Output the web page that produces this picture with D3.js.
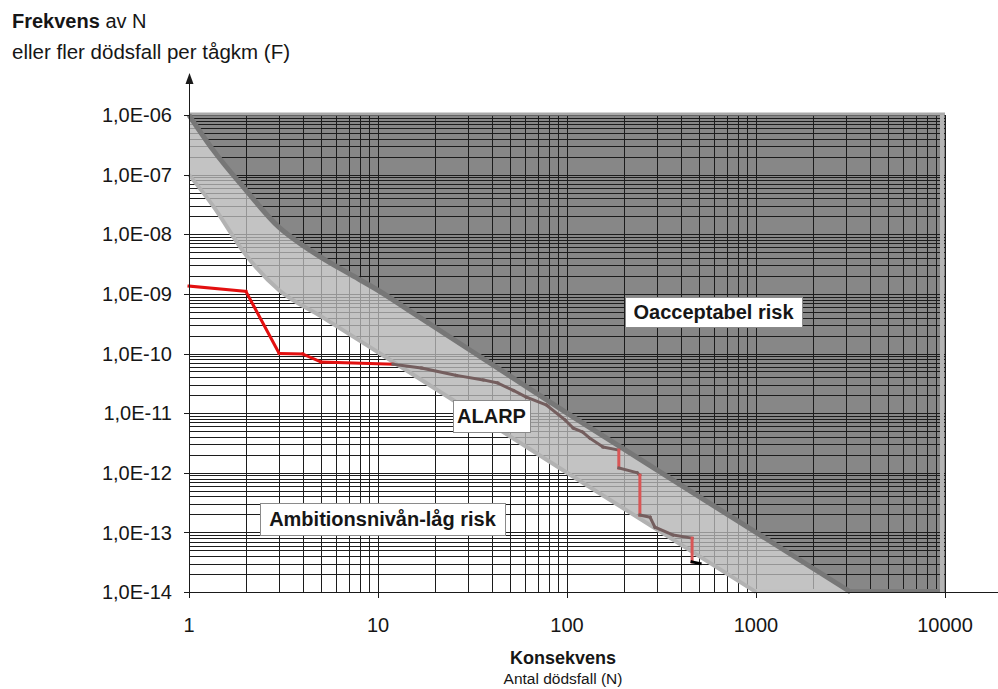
<!DOCTYPE html>
<html>
<head>
<meta charset="utf-8">
<script src="https://cdn.jsdelivr.net/npm/d3@7"></script>
<style>
  body { margin: 0; background: #fff; }
  svg { display: block; }
  text { font-family: "Liberation Sans", Arial, sans-serif; fill: #161616; }
</style>
</head>
<body>
<svg id="chart" width="998" height="689"></svg>
<script>
// Axis ticks
const xTickValues = [1, 10, 100, 1000, 10000];
const xTickLabels = ["1", "10", "100", "1000", "10000"];
const yTickValues = [1e-6, 1e-7, 1e-8, 1e-9, 1e-10, 1e-11, 1e-12, 1e-13, 1e-14];
const yTickLabels = ["1,0E-06", "1,0E-07", "1,0E-08", "1,0E-09", "1,0E-10", "1,0E-11", "1,0E-12", "1,0E-13", "1,0E-14"];

// Upper criterion (limit of unacceptable risk)
const upperN = [1, 1.34, 2, 3, 4, 5, 7, 10, 15, 100, 1000, 3162];
const upperF = [1e-6, 2.6e-7, 5.5e-8, 1.3e-8, 6.5e-9, 4.1e-9, 2.2e-9, 1.15e-9, 5e-10, 1e-11, 1e-13, 1e-14];

// Lower criterion (ambition level / low risk)
const lowerN = [1, 1.34, 2, 3, 5, 10, 100, 1000];
const lowerF = [1e-7, 3e-8, 4.5e-9, 1.15e-9, 4.2e-10, 1.05e-10, 1e-12, 1e-14];

// Computed FN curve
const fnN = [1, 2, 3, 4, 5, 12, 17, 26, 36, 43, 52, 61, 78, 98, 108, 121, 132, 155, 188, 188, 235, 243, 243, 275, 292, 364, 459, 459, 506];
const fnF = [1.35e-9, 1.1e-9, 1.0e-10, 9.8e-11, 7.2e-11, 6.6e-11, 5.7e-11, 4.3e-11, 3.6e-11, 3.2e-11, 2.4e-11, 1.85e-11, 1.36e-11, 7.6e-12, 5.6e-12, 4.8e-12, 3.8e-12, 2.7e-12, 2.4e-12, 1.2e-12, 1.0e-12, 9.1e-13, 1.95e-13, 1.8e-13, 1.22e-13, 9.0e-14, 8.0e-14, 3.2e-14, 3.0e-14];

// Region labels
const regionLabels = ["Oacceptabel risk", "ALARP", "Ambitionsnivån-låg risk"];

const svg = d3.select("#chart");
const x = d3.scaleLog().domain([1, 10000]).range([189, 945]);
const y = d3.scaleLog().domain([1e-14, 1e-6]).range([592, 115]);
const plotTop = y(1e-6), plotBottom = y(1e-14), plotLeft = x(1), plotRight = x(10000);

const upper = upperN.map((n, i) => ({ n, f: upperF[i] }));
const lower = lowerN.map((n, i) => ({ n, f: lowerF[i] }));
const fn = fnN.map((n, i) => ({ n, f: fnF[i] }));

const line = d3.line().x(d => x(d.n)).y(d => y(d.f)).curve(d3.curveMonotoneX);
const areaAbove = d3.area().x(d => x(d.n)).y0(plotTop).y1(d => y(d.f)).curve(d3.curveMonotoneX);
const areaBelow = d3.area().x(d => x(d.n)).y0(plotBottom).y1(d => y(d.f)).curve(d3.curveMonotoneX);

// Unacceptable region: above the upper criterion, and everything to the right of it
const uEnd = upper[upper.length - 1];
svg.append("path").attr("d", areaAbove(upper)).attr("fill", "#878787");
svg.append("rect")
  .attr("x", x(uEnd.n) - 1).attr("y", plotTop)
  .attr("width", plotRight - x(uEnd.n) + 1).attr("height", plotBottom - plotTop)
  .attr("fill", "#878787");

// Grid (all log ticks)
const grid = svg.append("g").attr("shape-rendering", "crispEdges").attr("stroke", "#1c1c1c").attr("stroke-width", 1);
x.ticks().forEach(v => {
  const px = Math.round(x(v)) + 0.5;
  grid.append("line").attr("x1", px).attr("x2", px).attr("y1", plotTop).attr("y2", plotBottom);
});
y.ticks().forEach(v => {
  const py = Math.round(y(v)) + 0.5;
  grid.append("line").attr("x1", plotLeft).attr("x2", plotRight).attr("y1", py).attr("y2", py);
});

// ALARP band between the two criteria (translucent so the grid shows through faintly)
svg.append("path")
  .attr("d", areaBelow(upper) + areaBelow(lower))
  .attr("fill-rule", "evenodd")
  .attr("fill", "#b4b4b4")
  .attr("fill-opacity", 0.8);

// Edges of the shaded regions
svg.append("line").attr("x1", x(1000)).attr("x2", x(uEnd.n)).attr("y1", plotBottom - 1).attr("y2", plotBottom - 1)
  .attr("stroke", "#c2c2c2").attr("stroke-width", 4);
svg.append("line").attr("x1", x(uEnd.n)).attr("x2", plotRight - 4).attr("y1", plotBottom - 1).attr("y2", plotBottom - 1)
  .attr("stroke", "#7a7a7a").attr("stroke-width", 4);
svg.append("line").attr("x1", plotLeft).attr("x2", plotRight).attr("y1", plotTop - 1).attr("y2", plotTop - 1)
  .attr("stroke", "#a9a9a9").attr("stroke-width", 3);
svg.append("line").attr("x1", plotRight - 3).attr("x2", plotRight - 3).attr("y1", plotTop).attr("y2", plotBottom)
  .attr("stroke", "#b4b4b4").attr("stroke-width", 4);

// Criterion lines
svg.append("path").attr("d", line(lower)).attr("fill", "none")
  .attr("stroke", "#b2b2b2").attr("stroke-width", 4);
svg.append("path").attr("d", line(upper)).attr("fill", "none")
  .attr("stroke", "#777777").attr("stroke-width", 5);

// FN curve, drawn segment by segment
const bandStartN = 12;
const fnG = svg.append("g").attr("stroke-width", 3).attr("stroke-linecap", "square");
for (let i = 0; i < fn.length - 1; i++) {
  const a = fn[i], b = fn[i + 1];
  let color = "#e31010";
  if (a.n >= bandStartN) color = (a.n === b.n) ? "#d95656" : "#745e5e";
  if (i === fn.length - 2) color = "#000000";
  fnG.append("line")
    .attr("x1", x(a.n)).attr("y1", y(a.f)).attr("x2", x(b.n)).attr("y2", y(b.f))
    .attr("stroke", color);
}

// Axes
const axisG = svg.append("g").attr("stroke", "#1a1a1a").attr("shape-rendering", "crispEdges");
axisG.append("line").attr("x1", plotLeft + 0.5).attr("x2", plotLeft + 0.5).attr("y1", plotBottom).attr("y2", 80);
axisG.append("line").attr("x1", plotLeft).attr("x2", 998).attr("y1", plotBottom + 0.5).attr("y2", plotBottom + 0.5);
svg.append("path")
  .attr("d", `M${plotLeft + 0.5},73 L${plotLeft - 3.5},84 L${plotLeft + 4.5},84 Z`)
  .attr("fill", "#1a1a1a");

yTickValues.forEach((v, i) => {
  const py = Math.round(y(v)) + 0.5;
  axisG.append("line").attr("x1", plotLeft - 5).attr("x2", plotLeft).attr("y1", py).attr("y2", py);
  svg.append("text")
    .attr("x", 172).attr("y", y(v)).attr("dy", "0.36em")
    .attr("text-anchor", "end").attr("font-size", 20)
    .text(yTickLabels[i]);
});
xTickValues.forEach((v, i) => {
  const px = Math.round(x(v)) + 0.5;
  axisG.append("line").attr("x1", px).attr("x2", px).attr("y1", plotBottom).attr("y2", plotBottom + 6);
  svg.append("text")
    .attr("x", x(v)).attr("y", 632)
    .attr("text-anchor", "middle").attr("font-size", 20)
    .text(xTickLabels[i]);
});

// Axis titles
const t1 = svg.append("text").attr("x", 12).attr("y", 28).attr("font-size", 20);
t1.append("tspan").attr("font-weight", "bold").text("Frekvens");
t1.append("tspan").text(" av N");
svg.append("text").attr("x", 12).attr("y", 59).attr("font-size", 20.5).text("eller fler dödsfall per tågkm (F)");

svg.append("text").attr("x", 563).attr("y", 664).attr("text-anchor", "middle")
  .attr("font-size", 18).attr("font-weight", "bold").text("Konsekvens");
svg.append("text").attr("x", 563).attr("y", 684).attr("text-anchor", "middle")
  .attr("font-size", 15.5).text("Antal dödsfall (N)");

// Region label boxes
const boxes = [
  { x: 625, y: 297, w: 177, h: 30 },
  { x: 453, y: 400, w: 77, h: 32 },
  { x: 260, y: 503, w: 245, h: 32 }
];
regionLabels.forEach((label, i) => {
  const b = boxes[i];
  svg.append("rect").attr("x", b.x + 0.5).attr("y", b.y + 0.5).attr("width", b.w).attr("height", b.h)
    .attr("fill", "#fff").attr("stroke", "#8a8a8a").attr("stroke-width", 1);
  svg.append("text").attr("x", b.x + b.w / 2).attr("y", b.y + b.h / 2).attr("dy", "0.36em")
    .attr("text-anchor", "middle").attr("font-size", 20).attr("font-weight", "bold")
    .text(label);
});
</script>
</body>
</html>
